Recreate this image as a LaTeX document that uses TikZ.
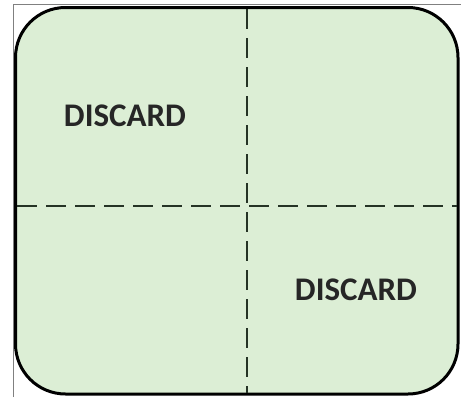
\documentclass[tikz,border=0pt]{standalone}
\usepackage{fontspec}
\newfontfamily\calib{Carlito}
\definecolor{boxfill}{HTML}{DCEED5}
\definecolor{lineclr}{HTML}{253325}
\begin{document}
\begin{tikzpicture}[x=1pt,y=-1pt,
  panel/.style={draw=black,line width=3pt,fill=boxfill,rounded corners=50pt},
  divider/.style={draw=lineclr,line width=2.6pt,dash pattern=on 20pt off 9pt},
  label/.style={font=\calib\bfseries\fontsize{33}{36}\selectfont,text=black!85,inner sep=0pt}]
\useasboundingbox (0,0) rectangle (461,397);
\fill[white] (0,0) rectangle (461,397);
\draw[gray,line width=1pt] (13,397) -- (13,4.5) -- (461,4.5);
\path[panel] (15.5,7.5) rectangle (458,394);
\coordinate (vt) at (247,9);
\coordinate (vb) at (247,393);
\coordinate (hl) at (17,206);
\coordinate (hr) at (457,206);
\draw[divider] (vt) -- (vb);
\draw[divider] (hl) -- (hr);
\node[label] (d1) at (125,116) {DISCARD};
\node[label] (d2) at (356,290) {DISCARD};
\end{tikzpicture}
\end{document}
